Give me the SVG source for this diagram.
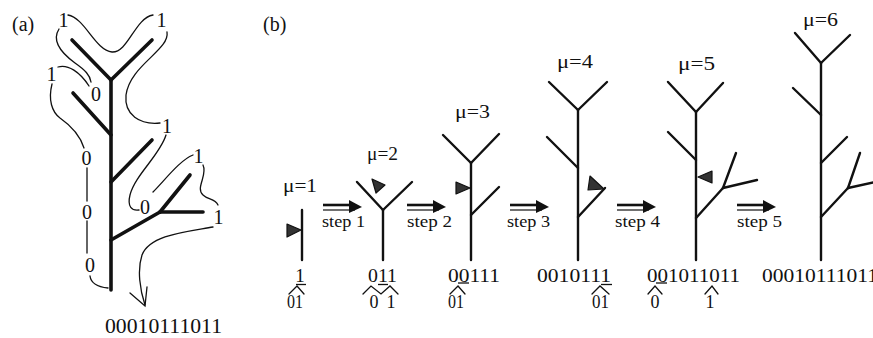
<svg xmlns="http://www.w3.org/2000/svg" width="873" height="338" viewBox="0 0 873 338">
<style>
text{font-family:"Liberation Serif","Times New Roman",serif;fill:#111}
.ta{stroke:#111;stroke-width:3.6;stroke-linecap:round;fill:none}
.tb{stroke:#111;stroke-width:2.4;stroke-linecap:round;fill:none}
.cv{stroke:#111;stroke-width:1.3;fill:none;stroke-linecap:round}
.lb{font-size:20px;text-anchor:middle}
.mu{font-size:19px}
.st{font-size:17px}
.cd{font-size:19px}
.cd2{font-size:18px}
.ul{stroke:#111;stroke-width:1.3}
.ptr{fill:#333;stroke:#111;stroke-width:1.2;stroke-linejoin:round}
.ar{stroke:#111;fill:none}
</style>
<defs>
<g id="arrow">
<line x1="0" y1="-3" x2="32" y2="-3" class="ar" stroke-width="2.6"/>
<line x1="0" y1="2" x2="32" y2="2" class="ar" stroke-width="1.2"/>
<polygon points="26,-8 39,-1 26,5" fill="#111"/>
</g>
</defs>
<g id="panel-a">
<text x="12" y="31" font-size="20">(a)</text>
<g id="tree-a">
<line class="ta" x1="111" y1="80" x2="111" y2="290"/>
<line class="ta" x1="72" y1="40" x2="111" y2="80"/>
<line class="ta" x1="152" y1="40" x2="111" y2="80"/>
<line class="ta" x1="73" y1="93" x2="111" y2="135"/>
<line class="ta" x1="111" y1="182" x2="152" y2="140"/>
<line class="ta" x1="111" y1="240" x2="160" y2="212"/>
<line class="ta" x1="160" y1="212" x2="190" y2="175"/>
<line class="ta" x1="160" y1="212" x2="203" y2="212"/>
</g>
<g id="contour-a">
<path class="cv" d="M68,15 C85,18 95,50 112,52 C128,53 135,18 153,15"/>
<path class="cv" d="M167,32 C170,50 130,65 126,95 C124,115 140,125 160,123"/>
<path class="cv" d="M166,135 C160,155 135,175 130,195 C127,207 132,211 139,210"/>
<path class="cv" d="M153,192 C165,180 180,160 193,155"/>
<path class="cv" d="M203,165 C208,175 195,188 203,195 C208,200 215,198 218,205"/>
<path class="cv" d="M213,227 C185,232 150,235 142,255 C137,270 140,290 145,305"/>
<polyline class="cv" points="130,293 145,306 147,287"/>
<path class="cv" d="M59,29 C52,40 60,52 75,63 C85,70 90,75 91,82"/>
<path class="cv" d="M58,67 C68,64 80,72 89,86"/>
<path class="cv" d="M52,84 C48,100 52,112 60,118 C70,125 80,135 84,148"/>
<line class="cv" x1="87" y1="168" x2="87" y2="201"/>
<line class="cv" x1="87" y1="221" x2="87" y2="253"/>
<path class="cv" d="M90,276 C91,284 98,287 108,288"/>
</g>
<g id="labels-a">
<text class="lb" x="63.5" y="27">1</text>
<text class="lb" x="161.5" y="27">1</text>
<text class="lb" x="51.5" y="81">1</text>
<text class="lb" x="96" y="101">0</text>
<text class="lb" x="167" y="133">1</text>
<text class="lb" x="86.5" y="165">0</text>
<text class="lb" x="198.5" y="163">1</text>
<text class="lb" x="145" y="214">0</text>
<text class="lb" x="87" y="219">0</text>
<text class="lb" x="218.5" y="224">1</text>
<text class="lb" x="90" y="272">0</text>
</g>
<text x="105" y="333" font-size="20" textLength="117" lengthAdjust="spacingAndGlyphs">00010111011</text>
</g>
<g id="panel-b">
<text x="263" y="31" font-size="20">(b)</text>
<g id="mu1">
<text class="mu" x="283" y="192" textLength="34" lengthAdjust="spacingAndGlyphs">μ=1</text>
<line class="tb" x1="302" y1="210" x2="302" y2="260"/>
<polygon class="ptr" points="287,224 301,230 287,237"/>
<text class="cd" x="300" y="282" text-anchor="middle">1</text>
<line class="ul" x1="296" y1="284.5" x2="306" y2="284.5"/>
<polyline class="cv" points="289,294 297,286 304,294"/>
<text class="cd2" x="287" y="308" textLength="16" lengthAdjust="spacingAndGlyphs">01</text>
</g>
<g id="mu2">
<text class="mu" x="367" y="160" textLength="31" lengthAdjust="spacingAndGlyphs">μ=2</text>
<line class="tb" x1="383" y1="210" x2="383" y2="260"/>
<line class="tb" x1="383" y1="210" x2="357" y2="182"/>
<line class="tb" x1="383" y1="210" x2="412" y2="182"/>
<polygon class="ptr" points="372,179 385,185 376,193"/>
<text class="cd" x="368" y="282" textLength="29" lengthAdjust="spacingAndGlyphs">011</text>
<line class="ul" x1="378" y1="284.5" x2="388" y2="284.5"/>
<polyline class="cv" points="363,294 371,286 381,294 390,286 398,294"/>
<text class="cd2" x="374" y="308" text-anchor="middle">0</text>
<text class="cd2" x="391" y="308" text-anchor="middle">1</text>
</g>
<g id="mu3">
<text class="mu" x="455" y="118" textLength="35" lengthAdjust="spacingAndGlyphs">μ=3</text>
<line class="tb" x1="471" y1="163" x2="471" y2="260"/>
<line class="tb" x1="471" y1="163" x2="443" y2="135"/>
<line class="tb" x1="471" y1="163" x2="499" y2="134"/>
<line class="tb" x1="471" y1="215" x2="499" y2="187"/>
<polygon class="ptr" points="456,182 470,188 456,194"/>
<text class="cd" x="448" y="282" textLength="52" lengthAdjust="spacingAndGlyphs">00111</text>
<line class="ul" x1="458" y1="283" x2="469" y2="283"/>
<polyline class="cv" points="450,294 458,286 465,294"/>
<text class="cd2" x="448" y="308" textLength="16" lengthAdjust="spacingAndGlyphs">01</text>
</g>
<g id="mu4">
<text class="mu" x="557" y="68" textLength="36" lengthAdjust="spacingAndGlyphs">μ=4</text>
<line class="tb" x1="578" y1="110" x2="578" y2="260"/>
<line class="tb" x1="578" y1="110" x2="549" y2="82"/>
<line class="tb" x1="578" y1="110" x2="607" y2="82"/>
<line class="tb" x1="578" y1="168" x2="547" y2="137"/>
<line class="tb" x1="578" y1="217" x2="605" y2="188"/>
<polygon class="ptr" points="590,176 604,189 588,190"/>
<text class="cd" x="537" y="282" textLength="74" lengthAdjust="spacingAndGlyphs">0010111</text>
<line class="ul" x1="601" y1="284.5" x2="612" y2="284.5"/>
<polyline class="cv" points="592,294 600,286 609,294"/>
<text class="cd2" x="592" y="308" textLength="17" lengthAdjust="spacingAndGlyphs">01</text>
</g>
<g id="mu5">
<text class="mu" x="678" y="70" textLength="37" lengthAdjust="spacingAndGlyphs">μ=5</text>
<line class="tb" x1="696" y1="112" x2="696" y2="260"/>
<line class="tb" x1="696" y1="112" x2="668" y2="82"/>
<line class="tb" x1="696" y1="112" x2="723" y2="83"/>
<line class="tb" x1="696" y1="160" x2="668" y2="132"/>
<line class="tb" x1="696" y1="218" x2="723" y2="188"/>
<line class="tb" x1="723" y1="188" x2="736" y2="153"/>
<line class="tb" x1="723" y1="188" x2="757" y2="180"/>
<polygon class="ptr" points="712,171 698,177 712,183"/>
<text class="cd" x="647" y="282" textLength="93" lengthAdjust="spacingAndGlyphs">001011011</text>
<line class="ul" x1="656" y1="283" x2="667" y2="283"/>
<polyline class="cv" points="648,294 655,286 662,294"/>
<text class="cd2" x="655" y="308" text-anchor="middle">0</text>
<polyline class="cv" points="705,294 712,286 718,294"/>
<text class="cd2" x="710" y="308" text-anchor="middle">1</text>
</g>
<g id="mu6">
<text class="mu" x="803" y="26" textLength="35" lengthAdjust="spacingAndGlyphs">μ=6</text>
<line class="tb" x1="821" y1="63" x2="821" y2="260"/>
<line class="tb" x1="821" y1="63" x2="795" y2="33"/>
<line class="tb" x1="821" y1="63" x2="850" y2="35"/>
<line class="tb" x1="821" y1="115" x2="793" y2="88"/>
<line class="tb" x1="821" y1="163" x2="847" y2="137"/>
<line class="tb" x1="821" y1="217" x2="848" y2="188"/>
<line class="tb" x1="848" y1="188" x2="860" y2="153"/>
<line class="tb" x1="848" y1="188" x2="875" y2="182"/>
<text class="cd" x="762" y="282" textLength="116" lengthAdjust="spacingAndGlyphs">00010111011</text>
</g>
</g>
<g id="connectors">
<use href="#arrow" x="323" y="208"/>
<use href="#arrow" x="407" y="208"/>
<use href="#arrow" x="510" y="208"/>
<use href="#arrow" x="617" y="208"/>
<use href="#arrow" x="737" y="208"/>
<text class="st" x="322" y="227" textLength="43" lengthAdjust="spacingAndGlyphs">step 1</text>
<text class="st" x="407" y="227" textLength="45" lengthAdjust="spacingAndGlyphs">step 2</text>
<text class="st" x="507" y="227" textLength="43" lengthAdjust="spacingAndGlyphs">step 3</text>
<text class="st" x="615" y="227" textLength="45" lengthAdjust="spacingAndGlyphs">step 4</text>
<text class="st" x="737" y="227" textLength="45" lengthAdjust="spacingAndGlyphs">step 5</text>
</g>
</svg>
